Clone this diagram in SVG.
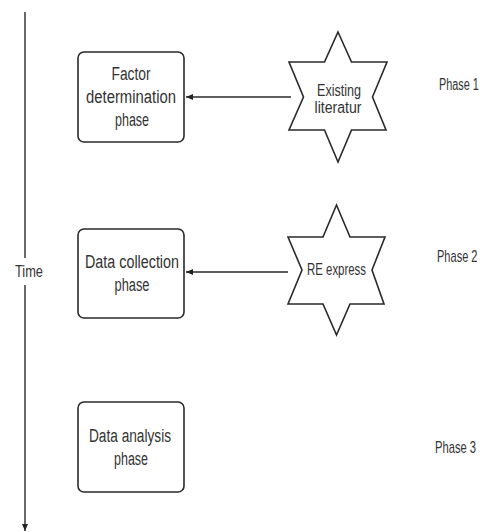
<svg xmlns="http://www.w3.org/2000/svg" width="486" height="532" viewBox="0 0 486 532">
<defs>
<marker id="ah" markerWidth="8" markerHeight="8" refX="7" refY="4" orient="auto" markerUnits="userSpaceOnUse">
<path d="M0,1 L7,4 L0,7 Z" fill="#222"/>
</marker>
<style>
.box{fill:#fff;stroke:#2a2a2a;stroke-width:1.6}
.star{fill:#fff;stroke:#2a2a2a;stroke-width:1.6;stroke-linejoin:miter}
.conn{stroke:#2a2a2a;stroke-width:1.4;fill:none}
text{font-family:"Liberation Sans",Arial,sans-serif;fill:#333;text-anchor:middle}
.bt{font-size:18px}
.st{font-size:16px}
.pt{font-size:16px}
.ph{font-size:16px;text-anchor:start}
</style>
</defs>
<rect width="486" height="532" fill="#fff"/>
<g id="connectors">
<line class="conn" x1="25" y1="12" x2="25" y2="258"/>
<line class="conn" x1="25" y1="285" x2="25" y2="531" marker-end="url(#ah)"/>
<line class="conn" x1="291" y1="97" x2="186" y2="97" marker-end="url(#ah)"/>
<line class="conn" x1="288" y1="272" x2="186" y2="272" marker-end="url(#ah)"/>
</g>
<g id="time-label">
<text class="pt" x="29" y="277" textLength="28" lengthAdjust="spacingAndGlyphs">Time</text>
</g>
<g id="box-factor">
<rect class="box" x="78" y="52" width="106" height="90" rx="6"/>
<text class="bt" x="131" y="80" textLength="39" lengthAdjust="spacingAndGlyphs">Factor</text>
<text class="bt" x="131" y="103" textLength="90" lengthAdjust="spacingAndGlyphs">determination</text>
<text class="bt" x="132" y="126" textLength="34" lengthAdjust="spacingAndGlyphs">phase</text>
</g>
<g id="box-collection">
<rect class="box" x="78" y="229" width="106" height="89" rx="6"/>
<text class="bt" x="132" y="268" textLength="94" lengthAdjust="spacingAndGlyphs">Data collection</text>
<text class="bt" x="132" y="291" textLength="35" lengthAdjust="spacingAndGlyphs">phase</text>
</g>
<g id="box-analysis">
<rect class="box" x="78" y="402" width="106" height="90" rx="6"/>
<text class="bt" x="130" y="442" textLength="82" lengthAdjust="spacingAndGlyphs">Data analysis</text>
<text class="bt" x="131" y="465" textLength="34" lengthAdjust="spacingAndGlyphs">phase</text>
</g>
<g id="star-literature">
<polygon class="star" points="338,32 351.5,62 387,62 372.5,97 386,130 351.5,130 338,162 324.5,130 289,130 303.5,97 289,62 324.5,62"/>
<text class="st" x="339" y="96" textLength="44" lengthAdjust="spacingAndGlyphs">Existing</text>
<text class="st" x="338" y="113" textLength="47" lengthAdjust="spacingAndGlyphs">literatur</text>
</g>
<g id="star-re-express">
<polygon class="star" points="336.5,205 350,237 385,237 372,270 384,304 350,304 336.5,335 323,304 288,304 302,270 288,237 323,237"/>
<text class="st" x="336.5" y="275" textLength="59" lengthAdjust="spacingAndGlyphs">RE express</text>
</g>
<g id="phase-labels">
<text class="ph" transform="translate(439 90) scale(0.68 1)" x="0" y="0">Phase 1</text>
<text class="ph" transform="translate(437 262) scale(0.69 1)" x="0" y="0">Phase 2</text>
<text class="ph" transform="translate(435 453) scale(0.7 1)" x="0" y="0">Phase 3</text>
</g>
</svg>
